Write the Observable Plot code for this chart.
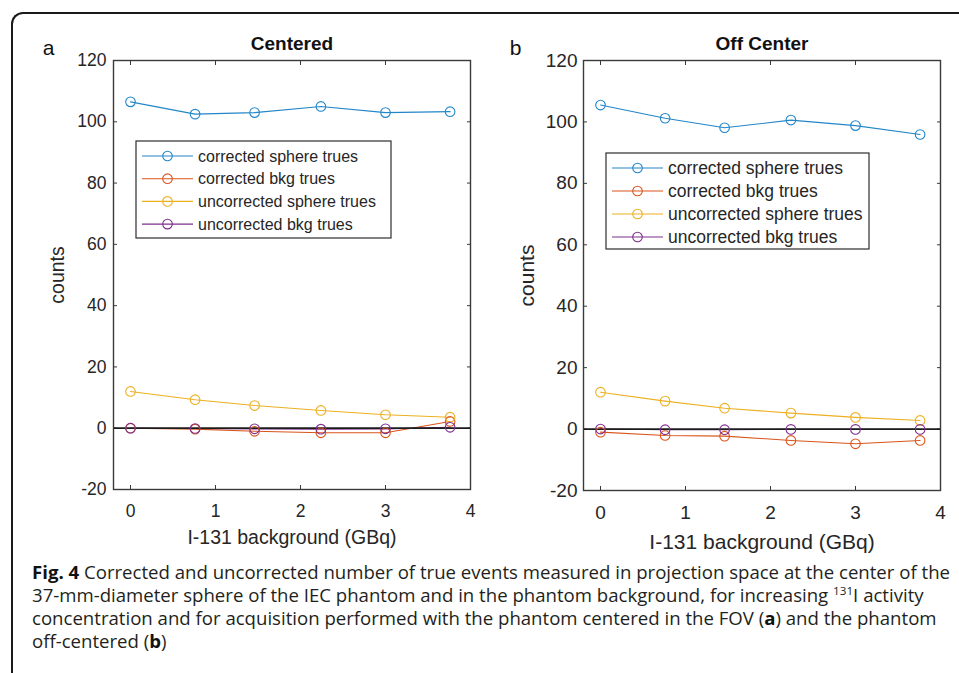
<!DOCTYPE html>
<html>
<head>
<meta charset="utf-8">
<script src="https://cdn.jsdelivr.net/npm/d3@7"></script>
<script src="https://cdn.jsdelivr.net/npm/@observablehq/plot@0.6"></script>
<style>
html, body { margin: 0; padding: 0; background: #fff; }
body { width: 959px; height: 673px; overflow: hidden; position: relative; font-family: "Liberation Sans", Arial, sans-serif; }
#frame { position: absolute; left: 11px; top: 12px; width: 1000px; height: 800px; border-left: 2px solid #1a1a1a; border-top: 2px solid #1a1a1a; border-top-left-radius: 12px; }
.panel { position: absolute; top: 0; }
.legend { position: absolute; }
#caption { position: absolute; left: 32px; top: 561px; font-family: "Open Sans", "Noto Sans", sans-serif; font-size: 17.5px; line-height: 23px; color: #231f20; white-space: nowrap; transform-origin: 0 0; }
#caption .ln { display: block; }
#caption b { font-weight: 700; color: #111; }
#caption .sup { font-size: 11px; vertical-align: 7px; line-height: 0; }
</style>
</head>
<body>
<div id="frame"></div>
<div id="pa" class="panel" style="left:0px;width:480px;"></div>
<div id="pb" class="panel" style="left:470px;width:489px;"></div>
<div id="caption">
  <span class="ln" id="ln1"><b>Fig. 4</b> Corrected and uncorrected number of true events measured in projection space at the center of the</span>
  <span class="ln">37-mm-diameter sphere of the IEC phantom and in the phantom background, for increasing <span class="sup">131</span>I activity</span>
  <span class="ln">concentration and for acquisition performed with the phantom centered in the FOV (<b>a</b>) and the phantom</span>
  <span class="ln">off-centered (<b>b</b>)</span>
</div>
<script>
// ---------- data ----------
const xValues = [0, 0.76, 1.46, 2.24, 3.0, 3.76];
const seriesNames = ["corrected sphere trues", "corrected bkg trues", "uncorrected sphere trues", "uncorrected bkg trues"];
const seriesColors = ["#2286c8", "#d9551c", "#ecb021", "#7e2f8e"];

const centeredSphereCorr   = [106.5, 102.5, 103.0, 105.0, 103.0, 103.3];
const centeredBkgCorr      = [0, -0.3, -1.0, -1.5, -1.5, 2.2];
const centeredSphereUncorr = [12.0, 9.3, 7.4, 5.8, 4.4, 3.6];
const centeredBkgUncorr    = [0, -0.1, -0.2, -0.3, -0.2, 0.3];

const offSphereCorr   = [105.5, 101.2, 98.1, 100.6, 98.8, 95.9];
const offBkgCorr      = [-1.0, -2.1, -2.3, -3.7, -4.8, -3.7];
const offSphereUncorr = [12.0, 9.1, 6.8, 5.2, 3.8, 2.8];
const offBkgUncorr    = [0, -0.2, -0.2, -0.1, -0.1, -0.1];

const xTicks = [0, 1, 2, 3, 4];
const yTicks = [-20, 0, 20, 40, 60, 80, 100, 120];
const panelTitles = ["Centered", "Off Center"];
const panelLetters = ["a", "b"];
const xLabel = "I-131 background (GBq)";
const yLabel = "counts";

// ---------- panels ----------
function makePanel(cfg) {
  const rows = cfg.series.flatMap((vals, i) => vals.map((v, j) => ({x: xValues[j], y: v, s: seriesNames[i]})));
  const axisColor = "#3a3a3a";
  const fmt = d => String(d);
  return Plot.plot({
    width: cfg.width, height: cfg.height,
    marginLeft: cfg.mL, marginRight: cfg.mR, marginTop: cfg.mT, marginBottom: cfg.mB,
    style: {fontFamily: "'Liberation Sans', Arial, sans-serif", color: "#262626", background: "transparent", overflow: "visible"},
    x: {domain: [-0.2, 4]},
    y: {domain: [-20, 120]},
    color: {domain: seriesNames, range: seriesColors},
    marks: [
      Plot.axisX({ticks: xTicks, anchor: "bottom", tickSize: -4, tickPadding: cfg.xPad, fontSize: cfg.tickFont, tickFormat: fmt, label: null, stroke: axisColor}),
      Plot.axisX({ticks: xTicks, anchor: "top", tickSize: -4, tickFormat: () => "", label: null, stroke: axisColor}),
      Plot.axisY({ticks: yTicks, anchor: "left", tickSize: -4, tickPadding: cfg.yPad, fontSize: cfg.tickFont, tickFormat: fmt, label: null, stroke: axisColor}),
      Plot.axisY({ticks: yTicks, anchor: "right", tickSize: -4, tickFormat: () => "", label: null, stroke: axisColor}),
      Plot.line(rows, {x: "x", y: "y", z: "s", stroke: "s", strokeWidth: 1.1}),
      Plot.ruleY([0], {stroke: "#1c1c1c", strokeWidth: 1.7}),
      Plot.dot(rows, {x: "x", y: "y", stroke: "s", r: 4.8, strokeWidth: 1.1}),
      Plot.frame({stroke: axisColor, strokeWidth: 1.4}),
      Plot.text([cfg.title], {frameAnchor: "top", dy: -17, fontWeight: "bold", fontSize: 19, textAnchor: "middle", lineAnchor: "middle", fill: "#111"}),
      Plot.text([cfg.letter], {frameAnchor: "top-left", dx: cfg.letterDx, dy: -12, fontSize: 21, textAnchor: "middle", lineAnchor: "middle", fill: "#111"}),
      Plot.text([xLabel], {frameAnchor: "bottom", dy: cfg.xLabDy, fontSize: cfg.labFont, textAnchor: "middle", lineAnchor: "middle"}),
      Plot.text([yLabel], {frameAnchor: "left", dx: -56, rotate: -90, fontSize: cfg.labFont, textAnchor: "middle", lineAnchor: "middle"})
    ]
  });
}

document.getElementById("pa").appendChild(makePanel({
  width: 480, height: 560, mL: 113, mR: 10, mT: 60, mB: 71,
  series: [centeredSphereCorr, centeredBkgCorr, centeredSphereUncorr, centeredBkgUncorr],
  title: panelTitles[0], letter: panelLetters[0], letterDx: -65,
  tickFont: 17.5, labFont: 19.5, xPad: 18.9, yPad: 11, xLabDy: 48
}));
document.getElementById("pb").appendChild(makePanel({
  width: 489, height: 560, mL: 113, mR: 19, mT: 60, mB: 70,
  series: [offSphereCorr, offBkgCorr, offSphereUncorr, offBkgUncorr],
  title: panelTitles[1], letter: panelLetters[1], letterDx: -68,
  tickFont: 19, labFont: 21, xPad: 19.4, yPad: 10, xLabDy: 52
}));

// ---------- legends ----------
function makeLegend(cfg) {
  const svg = d3.select("body").append("svg")
    .attr("class", "legend")
    .attr("width", cfg.w + 2).attr("height", cfg.h + 2)
    .style("left", (cfg.left - 1) + "px").style("top", (cfg.top - 1) + "px");
  svg.append("rect").attr("x", 1).attr("y", 1).attr("width", cfg.w).attr("height", cfg.h)
    .attr("fill", "#fff").attr("stroke", "#2e2e2e").attr("stroke-width", 1.2);
  seriesNames.forEach((name, i) => {
    const y = 1 + cfg.first + i * cfg.step;
    svg.append("line").attr("x1", 7).attr("x2", 58).attr("y1", y).attr("y2", y)
      .attr("stroke", seriesColors[i]).attr("stroke-width", 1.1);
    svg.append("circle").attr("cx", 32.5).attr("cy", y).attr("r", 4.8)
      .attr("fill", "none").attr("stroke", seriesColors[i]).attr("stroke-width", 1.1);
    svg.append("text").attr("x", 63).attr("y", y).attr("dy", "0.35em")
      .attr("font-family", "'Liberation Sans', Arial, sans-serif").attr("font-size", cfg.font)
      .attr("fill", "#262626").text(name);
  });
}
makeLegend({left: 136, top: 141, w: 255, h: 97, first: 15, step: 22.7, font: 16});
makeLegend({left: 606, top: 153, w: 263, h: 96, first: 15, step: 23, font: 17.5});

// ---------- caption fit ----------
const cap = document.getElementById("caption");
const w1 = document.getElementById("ln1").getBoundingClientRect().width;
const s = 918 / w1;
cap.style.transform = `scaleX(${s})`;
</script>
</body>
</html>
